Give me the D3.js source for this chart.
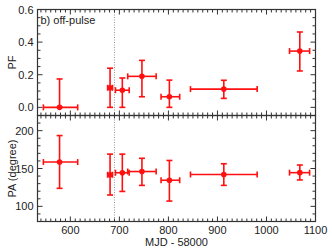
<!DOCTYPE html>
<html>
<head>
<meta charset="utf-8">
<script src="https://cdn.jsdelivr.net/npm/d3@7"></script>
<style>
  body { margin: 0; background: #fff; }
  text { font-family: "Liberation Sans", Arial, sans-serif; fill: #222; }
</style>
</head>
<body>
<div class="chart"></div>
<script>
const width = 332;
const height = 252;

// data: MJD - 58000 with half-width, PF and PA with asymmetric errors
const mjd      = [578, 681, 706, 746, 802, 913, 1068];
const mjdLo    = [545, 676, 692, 717, 785, 845, 1047];
const mjdHi    = [615, 686, 720, 775, 823, 981, 1088];
const pf       = [0.0, 0.12, 0.105, 0.19, 0.065, 0.112, 0.345];
const pfLo     = [0.0, 0.0, 0.0, 0.065, 0.0, 0.055, 0.223];
const pfHi     = [0.174, 0.24, 0.18, 0.288, 0.167, 0.166, 0.462];
const pa       = [158.5, 141.7, 144.4, 146, 134.5, 142.1, 144.5];
const paLo     = [123.8, 115, 119.7, 127.7, 107, 127.7, 134.9];
const paHi     = [193.5, 169, 169, 163.5, 160.6, 156.3, 154.6];
const xTicks   = [600, 700, 800, 900, 1000, 1100];
const pfTicks  = [0.0, 0.2, 0.4, 0.6];
const paTicks  = [100, 150, 200];
const markLine = 690;

const pLeft = 37.5, pRight = 315.5, pTop = 9.5, pMid = 115.5, pBottom = 221.5;

const svg = d3.select(".chart")
    .append("svg")
    .attr("width", width)
    .attr("height", height);

const x = d3.scaleLinear().domain([533, 1100]).range([pLeft, pRight]);
const yPF = d3.scaleLinear().domain([-0.05, 0.6]).range([pMid, pTop]);
const yPA = d3.scaleLinear().domain([80, 220]).range([pBottom, pMid]);

const axisCol = "#333";
const xMinor = d3.range(540, 1101, 10);

function drawPanel(y, y0, y1, major, minorStep, fmt, vals, lo, hi, label) {
    const g = svg.append("g");
    const dom = y.domain();
    const yMinor = d3.range(Math.ceil(dom[0] / minorStep) * minorStep, dom[1] + 1e-9, minorStep);

    // ticks: x top & bottom, y left & right (all inward)
    const tg = g.append("g").attr("stroke", axisCol).attr("stroke-width", 1);
    xMinor.forEach(v => {
        const len = xTicks.includes(v) ? 5 : 3;
        tg.append("line").attr("x1", x(v)).attr("x2", x(v)).attr("y1", y0).attr("y2", y0 + len);
        tg.append("line").attr("x1", x(v)).attr("x2", x(v)).attr("y1", y1).attr("y2", y1 - len);
    });
    yMinor.forEach(v => {
        const isMajor = major.some(m => Math.abs(m - v) < 1e-6);
        const len = isMajor ? 5 : 3;
        tg.append("line").attr("x1", pLeft).attr("x2", pLeft + len).attr("y1", y(v)).attr("y2", y(v));
        tg.append("line").attr("x1", pRight).attr("x2", pRight - len).attr("y1", y(v)).attr("y2", y(v));
    });

    g.append("rect")
        .attr("x", pLeft).attr("y", y0)
        .attr("width", pRight - pLeft).attr("height", y1 - y0)
        .attr("fill", "none").attr("stroke", axisCol).attr("stroke-width", 1.2);

    g.selectAll(".ylab")
        .data(major)
        .join("text")
        .attr("x", pLeft - 4)
        .attr("y", d => y(d) + 4)
        .attr("text-anchor", "end")
        .attr("font-size", 11)
        .text(fmt);

    g.append("text")
        .attr("transform", `translate(${pLeft - 22},${(y0 + y1) / 2}) rotate(-90)`)
        .attr("text-anchor", "middle")
        .attr("font-size", 11)
        .text(label);

    // error bars
    const red = "#ff1010";
    const eb = g.append("g").attr("stroke", red).attr("stroke-width", 1.6).attr("fill", "none");
    const cap = 3;
    mjd.forEach((m, i) => {
        eb.append("line").attr("x1", x(mjdLo[i])).attr("x2", x(mjdHi[i])).attr("y1", y(vals[i])).attr("y2", y(vals[i]));
        eb.append("line").attr("x1", x(mjdLo[i])).attr("x2", x(mjdLo[i])).attr("y1", y(vals[i]) - cap).attr("y2", y(vals[i]) + cap);
        eb.append("line").attr("x1", x(mjdHi[i])).attr("x2", x(mjdHi[i])).attr("y1", y(vals[i]) - cap).attr("y2", y(vals[i]) + cap);
        eb.append("line").attr("x1", x(m)).attr("x2", x(m)).attr("y1", y(lo[i])).attr("y2", y(hi[i]));
        eb.append("line").attr("x1", x(m) - cap).attr("x2", x(m) + cap).attr("y1", y(lo[i])).attr("y2", y(lo[i]));
        eb.append("line").attr("x1", x(m) - cap).attr("x2", x(m) + cap).attr("y1", y(hi[i])).attr("y2", y(hi[i]));
    });
    g.selectAll(".pt")
        .data(mjd)
        .join("circle")
        .attr("cx", d => x(d))
        .attr("cy", (d, i) => y(vals[i]))
        .attr("r", 2.8)
        .attr("fill", red);
    return g;
}

// dotted vertical marker
svg.append("line")
    .attr("x1", x(markLine)).attr("x2", x(markLine))
    .attr("y1", pTop).attr("y2", pBottom)
    .attr("stroke", "#999").attr("stroke-width", 1)
    .attr("stroke-dasharray", "1,1.5");

drawPanel(yPF, pTop, pMid, pfTicks, 0.05, d => d.toFixed(1), pf, pfLo, pfHi, "PF");
drawPanel(yPA, pMid, pBottom, paTicks, 10, d => d, pa, paLo, paHi, "PA (degree)");

svg.append("text")
    .attr("x", pLeft + 3).attr("y", pTop + 14)
    .attr("font-size", 11)
    .text("b) off-pulse");

// x tick labels
svg.selectAll(".xlab")
    .data(xTicks)
    .join("text")
    .attr("x", d => x(d))
    .attr("y", pBottom + 12)
    .attr("text-anchor", "middle")
    .attr("font-size", 11)
    .text(d => d);

svg.append("text")
    .attr("x", (pLeft + pRight) / 2)
    .attr("y", pBottom + 24)
    .attr("text-anchor", "middle")
    .attr("font-size", 11)
    .text("MJD - 58000");
</script>
</body>
</html>
